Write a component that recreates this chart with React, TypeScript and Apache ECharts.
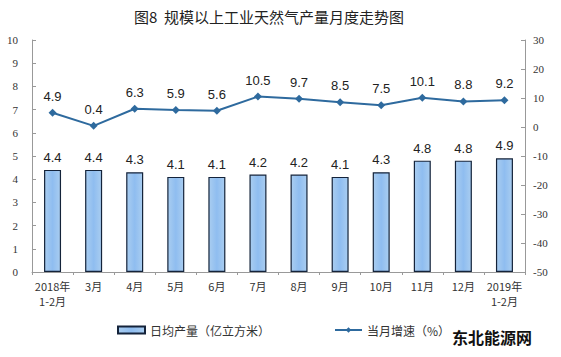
import React, { useEffect, useRef } from "react";
import * as echarts from "echarts";

const categories = ["2018年\n1-2月", "3月", "4月", "5月", "6月", "7月", "8月", "9月", "10月", "11月", "12月", "2019年\n1-2月"];
const dailyOutput = [4.4, 4.4, 4.3, 4.1, 4.1, 4.2, 4.2, 4.1, 4.3, 4.8, 4.8, 4.9];
const growthRate = [4.9, 0.4, 6.3, 5.9, 5.6, 10.5, 9.7, 8.5, 7.5, 10.1, 8.8, 9.2];
const barName = "日均产量（亿立方米）";
const lineName = "当月增速（%）";
const title = "图8  规模以上工业天然气产量月度走势图";

export default function App() {
  const ref = useRef<HTMLDivElement>(null);
  useEffect(() => {
    document.body.style.margin = "0";
    const chart = echarts.init(ref.current!, null, { renderer: "svg" });
    const serif = "'Liberation Serif', 'DejaVu Serif', serif";
    const sans = "'Liberation Sans', Arial, sans-serif";
    chart.setOption({
      animation: false,
      backgroundColor: "#ffffff",
      title: {
        text: title,
        left: 264,
        textAlign: "center",
        top: 4,
        textStyle: { fontSize: 15, fontWeight: "normal", color: "#222", fontFamily: "'Noto Sans CJK SC', sans-serif" },
      },
      grid: { left: 32, right: 36, top: 40, bottom: 85 },
      legend: {
        left: 112,
        top: 319,
        itemWidth: 27,
        itemHeight: 7,
        itemGap: 64,
        textStyle: { fontSize: 12, color: "#333", fontFamily: "'Noto Sans CJK SC', sans-serif" },
        data: [
          { name: barName, icon: "rect" },
          { name: lineName },
        ],
      },
      xAxis: {
        type: "category",
        data: categories,
        axisLine: { lineStyle: { color: "#999" } },
        axisTick: { show: true, length: 3, lineStyle: { color: "#999" } },
        axisLabel: { fontSize: 11, color: "#333", fontFamily: "'Noto Sans CJK SC', serif", margin: 6, lineHeight: 15, interval: 0 },
      },
      yAxis: [
        {
          type: "value",
          min: 0,
          max: 10,
          interval: 1,
          position: "left",
          axisLine: { show: true, lineStyle: { color: "#999" } },
          axisTick: { show: true, inside: true, length: 4, lineStyle: { color: "#999" } },
          splitLine: { show: false },
          axisLabel: { fontSize: 11, color: "#333", fontFamily: serif, margin: 14 },
        },
        {
          type: "value",
          min: -50,
          max: 30,
          interval: 10,
          position: "right",
          axisLine: { show: true, lineStyle: { color: "#999" } },
          axisTick: { show: true, inside: true, length: 4, lineStyle: { color: "#999" } },
          splitLine: { show: false },
          axisLabel: { fontSize: 11, color: "#333", fontFamily: serif, margin: 8 },
        },
      ],
      series: [
        {
          name: barName,
          type: "bar",
          data: dailyOutput,
          yAxisIndex: 0,
          barWidth: 17,
          itemStyle: {
            color: new echarts.graphic.LinearGradient(0, 0, 1, 0, [
              { offset: 0, color: "#a9cdf0" },
              { offset: 0.5, color: "#8fbdf0" },
              { offset: 1, color: "#a9cdf0" },
            ]),
            borderColor: "#14233a",
            borderWidth: 1.2,
          },
          label: { show: true, position: "top", distance: 6, fontSize: 13, color: "#222", fontFamily: sans, formatter: (p: any) => p.value.toFixed(1) },
        },
        {
          name: lineName,
          type: "line",
          data: growthRate,
          yAxisIndex: 1,
          symbol: "diamond",
          symbolSize: 8,
          lineStyle: { color: "#2e6a9e", width: 2 },
          itemStyle: { color: "#2e6a9e" },
          label: { show: true, position: "top", distance: 6, fontSize: 13, color: "#222", fontFamily: sans, formatter: (p: any) => p.value.toFixed(1) },
        },
      ],
      graphic: [
        {
          type: "text",
          left: 452,
          top: 329,
          style: { text: "东北能源网", fontSize: 16, fontWeight: "bold", fill: "#111", fontFamily: "'Noto Sans CJK SC', sans-serif" },
        },
      ],
    });
    return () => chart.dispose();
  }, []);
  return <div ref={ref} style={{ width: 561, height: 357 }} />;
}
